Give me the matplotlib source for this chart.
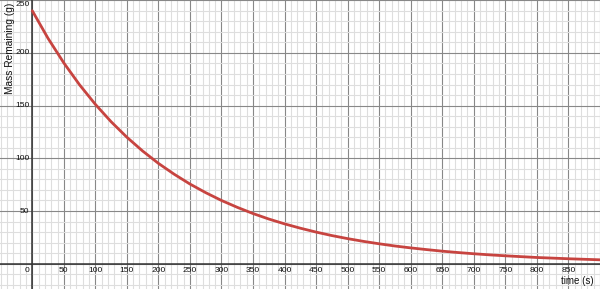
import matplotlib
matplotlib.use("Agg")
import matplotlib.pyplot as plt
import numpy as np

# Values
time_s = [0, 25, 50, 75, 100, 125, 150, 175, 200, 225, 250, 275, 300, 325, 350,
          375, 400, 425, 450, 475, 500, 525, 550, 575, 600, 625, 650, 675, 700,
          725, 750, 775, 800, 825, 850, 875, 900]
mass_g = [240, 213.8, 190.5, 169.7, 151.2, 134.7, 120, 106.9, 95.2, 84.9, 75.6,
          67.4, 60, 53.5, 47.6, 42.4, 37.8, 33.7, 30, 26.7, 23.8, 21.2, 18.9,
          16.8, 15, 13.4, 11.9, 10.6, 9.45, 8.4, 7.5, 6.7, 5.9, 5.3, 4.7, 4.2, 3.7]
x_tick_labels = list(range(50, 900, 50))
y_tick_labels = [50, 100, 150, 200, 250]

plt.rcParams['font.family'] = ['Liberation Sans', 'DejaVu Sans']

fig = plt.figure(figsize=(6.0, 2.89), dpi=100)
ax = fig.add_axes([0, 0, 1, 1])

ax.set_xticks(np.arange(0, 901, 50))
ax.set_xticks(np.arange(-50, 901, 10), minor=True)
ax.set_yticks(np.arange(0, 251, 50))
ax.set_yticks(np.arange(-20, 251, 10), minor=True)
ax.set_xlim(-51.2, 900.2)
ax.set_ylim(-24.0, 250.2)
ax.grid(which='minor', color='#dedede', linewidth=0.8, zorder=0)
ax.grid(which='major', color='#888888', linewidth=0.8, zorder=1)
ax.tick_params(which='both', length=0, labelbottom=False, labelleft=False)
for s in ax.spines.values():
    s.set_visible(False)

ax.axhline(0, color='#333333', linewidth=1.1, zorder=2)
ax.axvline(0, color='#333333', linewidth=1.1, zorder=2)

ax.plot(time_s, mass_g, color='#c74440', linewidth=2.0, zorder=3,
        solid_capstyle='round')

fs = 6.1
tc = '#111111'
for t in x_tick_labels:
    ax.annotate(str(t), (t, 0), xytext=(0, -3), textcoords='offset pixels',
                ha='center', va='top', fontsize=fs, color=tc, zorder=4)
ax.annotate('0', (0, 0), xytext=(-3, -3), textcoords='offset pixels',
            ha='right', va='top', fontsize=fs, color=tc, zorder=4)
for v in y_tick_labels:
    if v == 250:
        ax.annotate(str(v), (0, v), xytext=(-3, -1), textcoords='offset pixels',
                    ha='right', va='top', fontsize=fs, color=tc, zorder=4)
    else:
        ax.annotate(str(v), (0, v), xytext=(-3, 0), textcoords='offset pixels',
                    ha='right', va='center', fontsize=fs, color=tc, zorder=4)

fig.text(10 / 600, 1 - 3 / 289, 'Mass Remaining (g)', rotation=90,
         ha='center', va='top', fontsize=7.3, color='#111111')
fig.text(594 / 600, 1 - 286 / 289, 'time (s)', ha='right', va='bottom',
         fontsize=7.0, color='#111111')

fig.savefig('out.png', dpi=100)
